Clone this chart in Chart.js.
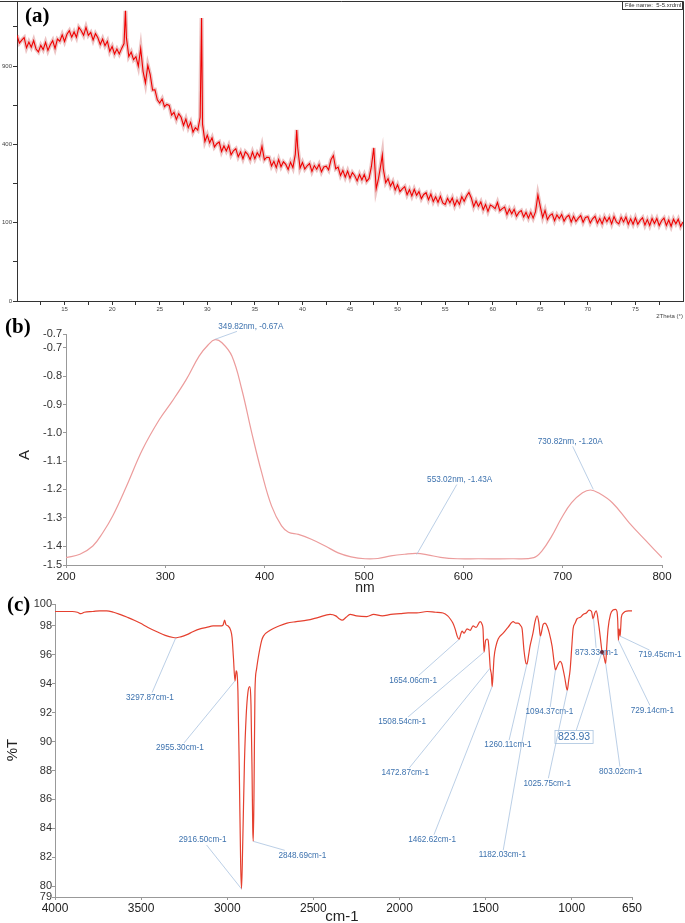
<!DOCTYPE html>
<html>
<head>
<meta charset="utf-8">
<script src="https://cdn.jsdelivr.net/npm/chart.js@4.4.1/dist/chart.umd.min.js"></script>
<style>
  body { margin: 0; background: #fff; }
  #wrap { position: relative; width: 685px; height: 923px; overflow: hidden; }
  canvas { position: absolute; left: 0; }
  .tag { position: absolute; font: bold 21px "Liberation Serif", "Times New Roman", serif; line-height: 21px; color: #000; }
</style>
</head>
<body>
<div id="wrap">
  <canvas id="xrd" width="685" height="322" style="top:0;width:685px;height:322px"></canvas>
  <canvas id="uv" width="685" height="270" style="top:322px;width:685px;height:270px"></canvas>
  <canvas id="ir" width="685" height="331" style="top:592px;width:685px;height:331px"></canvas>
  <div class="tag" style="left:25px;top:5px">(a)</div>
  <div class="tag" style="left:5px;top:316px">(b)</div>
  <div class="tag" style="left:7px;top:594px">(c)</div>
</div>
<script>
// ---- (a) XRD, 2theta vs counts ----
const xrdTheta = [
  10,10.25,10.5,10.75,11,11.25,11.5,11.75,12,12.25,12.5,12.75,13,13.25,13.5,13.75,14,14.25,14.5,14.75,
  15,15.25,15.5,15.75,16,16.25,16.5,16.75,17,17.25,17.5,17.75,18,18.25,18.5,18.75,19,19.25,19.5,19.75,
  20,20.25,20.5,20.75,21,21.25,21.4,21.5,21.75,22,22.25,22.5,22.75,23,23.25,23.5,23.75,24,24.25,24.5,24.75,
  25,25.25,25.5,25.75,26,26.25,26.5,26.75,27,27.25,27.5,27.75,28,28.25,28.5,28.75,29,29.25,29.4,29.5,29.75,
  30,30.25,30.5,30.75,31,31.25,31.5,31.75,32,32.25,32.5,32.75,33,33.25,33.5,33.75,34,34.25,34.5,34.75,
  35,35.25,35.5,35.75,36,36.25,36.5,36.75,37,37.25,37.5,37.75,38,38.25,38.5,38.75,39,39.25,39.4,39.5,39.75,
  40,40.25,40.5,40.75,41,41.25,41.5,41.75,42,42.25,42.5,42.75,43,43.25,43.5,43.75,44,44.25,44.5,44.75,
  45,45.25,45.5,45.75,46,46.25,46.5,46.75,47,47.25,47.5,47.75,48,48.25,48.4,48.5,48.75,49,49.25,49.5,49.75,
  50,50.25,50.5,50.75,51,51.25,51.5,51.75,52,52.25,52.5,52.75,53,53.25,53.5,53.75,54,54.25,54.5,54.75,
  55,55.25,55.5,55.75,56,56.25,56.5,56.75,57,57.25,57.5,57.75,58,58.25,58.5,58.75,59,59.25,59.5,59.75,
  60,60.25,60.5,60.75,61,61.25,61.5,61.75,62,62.25,62.5,62.75,63,63.25,63.5,63.75,64,64.25,64.5,64.75,
  65,65.25,65.5,65.75,66,66.25,66.5,66.75,67,67.25,67.5,67.75,68,68.25,68.5,68.75,69,69.25,69.5,69.75,
  70,70.25,70.5,70.75,71,71.25,71.5,71.75,72,72.25,72.5,72.75,73,73.25,73.5,73.75,74,74.25,74.5,74.75,
  75,75.25,75.5,75.75,76,76.25,76.5,76.75,77,77.25,77.5,77.75,78,78.25,78.5,78.75,79,79.25,79.5,79.75,80
];
const xrdCounts = [
  1150,1085,1110,1130,1045,1093,1050,1105,1035,1012,1065,1030,1090,1023,1070,1105,1040,1118,1100,1155,
  1098,1160,1190,1135,1180,1133,1220,1190,1150,1220,1150,1175,1110,1165,1130,1073,1119,1063,1100,1015,
  1055,995,1035,995,1040,1080,1372,1130,975,1010,950,973,900,1040,860,775,905,835,725,727,660,
  639,665,615,630,623,563,580,537,572,550,502,540,490,520,465,490,476,550,1306,510,415,
  448,408,434,387,403,412,364,392,367,394,348,368,378,339,362,330,363,351,326,362,
  330,358,340,390,325,337,336,297,318,290,326,294,316,304,282,314,290,350,477,385,288,
  313,284,298,308,274,299,283,304,272,293,296,280,325,345,285,292,257,278,250,275,
  246,269,256,235,261,239,261,233,245,295,382,205,245,305,348,285,228,244,215,232,201,
  220,195,205,213,184,202,180,203,182,195,171,185,191,167,186,161,177,159,179,157,
  152,172,157,173,148,166,152,177,162,180,192,173,145,163,146,160,136,152,131,150,
  146,139,158,133,139,144,122,138,124,137,117,128,133,115,128,112,128,112,130,183,
  145,114,134,108,119,124,105,121,111,122,104,115,120,102,117,103,112,119,101,114,
  116,99,110,117,99,111,97,115,103,114,97,116,102,97,114,102,115,96,110,96,
  113,96,106,113,94,108,93,111,98,111,93,105,112,93,107,91,109,97,109,91,102
];
const xrdXTicks = [12.5,15,17.5,20,22.5,25,27.5,30,32.5,35,37.5,40,42.5,45,47.5,50,52.5,55,57.5,60,62.5,65,67.5,70,72.5,75,77.5];
const xrdXLabels = ['','15','','20','','25','','30','','35','','40','','45','','50','','55','','60','','65','','70','','75',''];
const xrdYTickCounts = [0,25,100,225,400,625,900,1225];
const xrdYLabels = ['0','','100','','400','','900',''];

// ---- (b) UV-Vis, nm vs A ----
const uvNm = [200,214,227,237,247,261,277,294,307,321,334,343,350,357,367,377,387,397,407,417,
  424,434,447,461,474,487,501,514,527,541,553,564,577,594,615,649,671,679,689,699,
  709,720,728,736,750,767,784,800];
const uvAbs = [-1.441,-1.429,-1.40,-1.353,-1.294,-1.188,-1.059,-0.953,-0.888,-0.812,-0.729,-0.69,-0.671,-0.682,-0.729,-0.847,-1.0,-1.141,-1.259,-1.329,
  -1.351,-1.359,-1.376,-1.40,-1.424,-1.438,-1.445,-1.444,-1.435,-1.429,-1.426,-1.431,-1.44,-1.445,-1.445,-1.445,-1.441,-1.418,-1.365,-1.30,
  -1.247,-1.212,-1.202,-1.212,-1.247,-1.318,-1.382,-1.441];
const uvXTicks = [200,300,400,500,600,700,800];
const uvXLabels = ['200','300','400','500','600','700','800'];
const uvYTicks = [-1.467,-1.4,-1.3,-1.2,-1.1,-1.0,-0.9,-0.8,-0.7,-0.651];
const uvYLabels = ['-1.5','-1.4','-1.3','-1.2','-1.1','-1.0','-0.9','-0.8','-0.7','-0.7'];
const uvPeakNm = [349.82, 553.02, 730.82];
const uvPeakA = [-0.67, -1.43, -1.20];
const uvPeakText = ['349.82nm, -0.67A', '553.02nm, -1.43A', '730.82nm, -1.20A'];

// ---- (c) FTIR, cm-1 vs %T ----
const irCm = [4000,3950,3900,3870,3850,3830,3780,3740,3700,3660,3623,3580,3540,3506,3460,3408,3360,3314,3298,3270,
  3234,3200,3158,3120,3082,3040,3025,3015,3008,2995,2980,2972,2964,2955,2948,2944,2938,2930,2922,2917,
  2910,2900,2890,2880,2870,2862,2856,2852,2849,2845,2839,2830,2820,2800,2790,2751,2700,2653,2600,2537,
  2470,2403,2370,2350,2333,2310,2287,2250,2190,2150,2100,2050,1996,1950,1900,1840,1790,1747,1720,1706,
  1690,1677,1665,1654,1645,1637,1625,1608,1590,1573,1555,1532,1520,1515,1509,1500,1491,1485,1478,1473,
  1466,1462,1456,1451,1440,1427,1398,1370,1340,1325,1311,1295,1288,1277,1265,1260,1250,1242,1225,1213,
  1201,1192,1189,1182,1175,1166,1155,1143,1130,1114,1100,1094,1085,1067,1058,1050,1040,1030,1026,1018,
  1009,1000,992,980,969,950,934,915,899,885,876,866,858,850,847,840,830,824,815,806,
  803,797,789,775,760,745,737,733,729,725,722,719,715,712,700,690,670,650];
const irT = [99.0,99.0,99.0,98.95,98.85,98.95,99.0,99.05,99.05,98.95,98.8,98.6,98.4,98.2,97.9,97.6,97.35,97.2,97.18,97.25,
  97.4,97.6,97.8,97.9,98.0,98.0,98.05,98.4,98.1,98.0,97.7,97.2,95.8,94.2,94.9,94.8,93.5,88,81.5,79.8,
  83,88.6,91.8,93.4,93.8,92.5,88,84,83.1,86,93.5,95,95.8,97.0,97.3,97.7,98.0,98.2,98.3,98.4,
  98.6,98.8,98.7,98.5,98.4,98.6,98.8,98.7,98.65,98.8,98.7,98.8,98.85,98.9,98.9,99.0,98.95,98.9,98.7,98.5,
  98.2,97.8,97.3,97.07,97.4,97.65,97.5,97.8,97.7,98.0,97.9,98.3,98.1,97.8,96.2,97.0,97.1,97.0,96.0,95.1,
  94.6,93.8,94.8,95.8,96.6,97.1,97.5,97.9,98.3,98.2,98.2,98.0,97.8,96.3,95.4,95.36,96.0,96.6,97.5,98.3,
  98.7,98.3,98.0,97.3,97.6,98.1,98.2,98.0,97.5,96.6,95.3,94.95,95.2,95.55,95.4,95.0,94.4,93.7,93.55,94.2,
  95.0,96.5,97.8,98.2,98.5,98.6,98.8,98.9,99.1,99.0,98.5,98.9,99.05,98.7,98.4,97.8,96.8,96.2,96.0,95.5,
  95.4,96.5,97.8,98.8,99.1,99.15,99.0,98.4,97.0,97.8,97.6,97.3,98.0,98.6,98.9,99.0,99.05,99.05];
const irXTicks = [650,1000,1500,2000,2500,3000,3500,4000];
const irXLabels = ['650','1000','1500','2000','2500','3000','3500','4000'];
const irYTicks = [79.25,80,82,84,86,88,90,92,94,96,98,99.52];
const irYLabels = ['79','80','82','84','86','88','90','92','94','96','98','100'];
const irPeakCm = [3297.87,2955.30,2916.50,2848.69,1654.06,1508.54,1472.87,1462.62,1260.11,1182.03,1094.37,1025.75,873.33,823.93,803.02,729.14,719.45];
const irPeakT = [97.2,94.2,79.8,83.1,97.07,96.2,95.1,93.8,95.36,97.3,94.95,93.55,98.5,96.2,95.4,97.0,97.3];
const irPeakText = ['3297.87cm-1','2955.30cm-1','2916.50cm-1','2848.69cm-1','1654.06cm-1','1508.54cm-1','1472.87cm-1','1462.62cm-1',
  '1260.11cm-1','1182.03cm-1','1094.37cm-1','1025.75cm-1','873.33cm-1','823.93','803.02cm-1','729.14cm-1','719.45cm-1'];

// label placement (pixel offset of each label from its peak)
const uvLabelOffset = [[36,-13],[43,-75],[-23,-48]];
const irLabelOffset = [[-26,60],[-55,67],[-39,-49],[49,14],[-46,41],[-82,70],[-85,105],[-60,153],[-19,81],[-38,219],
  [-6,42],[-20,93],[3,34],[-28,85],[15,108],[34,70],[40,19]];

const FONT = 'Arial, "Liberation Sans", sans-serif';
Chart.defaults.font.family = FONT;
Chart.defaults.animation = false;

// free text (axis titles etc.)
Chart.register({
  id: 'extraText',
  afterDraw(chart, args, opts) {
    const ctx = chart.ctx;
    (opts.items || []).forEach(t => {
      ctx.save();
      ctx.font = t.font;
      ctx.fillStyle = t.color || '#222';
      ctx.textAlign = t.align || 'center';
      ctx.textBaseline = 'middle';
      ctx.translate(t.x, t.y);
      if (t.rot) ctx.rotate(t.rot);
      ctx.fillText(t.text, 0, 0);
      ctx.restore();
    });
  }
});

// peak labels with leader lines
Chart.register({
  id: 'peakLabels',
  afterDatasetsDraw(chart, args, opts) {
    if (!opts.points) return;
    const ctx = chart.ctx, xs = chart.scales.x, ys = chart.scales.y;
    ctx.save();
    opts.points.forEach(p => {
      const px = xs.getPixelForValue(p.x), py = ys.getPixelForValue(p.y);
      const lx = px + p.dx, ly = py + p.dy;
      ctx.font = p.box ? opts.boxFont : opts.font;
      const w = ctx.measureText(p.text).width, h = p.box ? 11 : 8;
      const hw = w / 2 + (p.box ? 3 : 1), hh = h / 2 + 1;
      const vx = px - lx, vy = py - ly;
      const s = Math.min(vx ? hw / Math.abs(vx) : Infinity, vy ? hh / Math.abs(vy) : Infinity);
      ctx.strokeStyle = opts.lineColor;
      ctx.lineWidth = 0.8;
      ctx.beginPath();
      ctx.moveTo(px, py);
      ctx.lineTo(lx + vx * s, ly + vy * s);
      ctx.stroke();
      if (p.box) ctx.strokeRect(lx - w / 2 - 3, ly - h / 2 - 1, w + 6, h + 2);
      if (p.dot) {
        ctx.fillStyle = '#6b2b3a';
        ctx.beginPath(); ctx.arc(px, py, 2, 0, Math.PI * 2); ctx.fill();
      }
      ctx.fillStyle = opts.color;
      ctx.textAlign = 'center';
      ctx.textBaseline = 'middle';
      ctx.fillText(p.text, lx, ly);
    });
    ctx.restore();
  }
});

function axis(o) {
  return {
    type: 'linear', position: o.pos, min: o.min, max: o.max, reverse: !!o.reverse,
    afterBuildTicks: s => { s.ticks = o.ticks.map(v => ({ value: v })); },
    afterFit: s => {
      if (o.pos === 'bottom') { s.height = o.size; s.paddingLeft = 0; s.paddingRight = 0; }
      else { s.width = o.size; s.paddingTop = 0; s.paddingBottom = 0; }
    },
    grid: { drawOnChartArea: false, tickLength: o.tick, color: o.line, tickColor: o.line },
    border: { color: o.line, width: 1 },
    ticks: {
      autoSkip: false, maxRotation: 0, padding: o.pad, color: o.text,
      font: { family: FONT, size: o.font },
      callback: (v, i) => o.labels[i]
    }
  };
}

// ---- chart (a) ----
const xrdFrame = {
  id: 'xrdFrame',
  afterDraw(chart) {
    const { ctx, chartArea: a } = chart;
    ctx.save();
    ctx.strokeStyle = '#333';
    ctx.lineWidth = 1;
    ctx.beginPath();
    ctx.moveTo(0, a.top + 0.5);
    ctx.lineTo(a.right + 0.5, a.top + 0.5);
    ctx.lineTo(a.right + 0.5, a.bottom);
    ctx.stroke();
    ctx.fillStyle = '#fff';
    ctx.fillRect(622, 1, 60, 8);
    ctx.strokeRect(622.5, 1.5, 60, 8);
    ctx.font = '6px ' + FONT;
    ctx.fillStyle = '#333';
    ctx.textBaseline = 'middle';
    ctx.fillText('File name:  5-5.xrdml', 625, 5.5);
    ctx.restore();
  }
};

const xrdPoints = xrdTheta.map((t, i) => ({ x: t, y: Math.sqrt(xrdCounts[i]) }));

new Chart(document.getElementById('xrd'), {
  type: 'line',
  data: {
    datasets: [
      { data: xrdPoints, borderColor: '#f00000', borderWidth: 1.1, pointRadius: 0, tension: 0, order: 1 },
      // soft halo under the trace, like the dense raw scan
      { data: xrdPoints, borderColor: 'rgba(185,40,40,0.28)', borderWidth: 4, pointRadius: 0, tension: 0, order: 2 }
    ]
  },
  options: {
    responsive: false, devicePixelRatio: 1, events: [],
    layout: { padding: { left: 0, top: 1, right: 2, bottom: 0 } },
    plugins: {
      legend: { display: false }, tooltip: { enabled: false },
      extraText: { items: [{ text: '2Theta (°)', x: 683, y: 316, font: '6px ' + FONT, align: 'right', color: '#444' }] }
    },
    scales: {
      x: axis({ pos: 'bottom', min: 10, max: 80, ticks: xrdXTicks, labels: xrdXLabels, size: 21, tick: 4, pad: 1, font: 6, line: '#333', text: '#444' }),
      y: axis({ pos: 'left', min: 0, max: 38.3, ticks: xrdYTickCounts.map(Math.sqrt), labels: xrdYLabels, size: 17, tick: 4, pad: 1, font: 6, line: '#333', text: '#444' })
    }
  },
  plugins: [xrdFrame]
});

// ---- chart (b) ----
new Chart(document.getElementById('uv'), {
  type: 'line',
  data: {
    datasets: [{
      data: uvNm.map((n, i) => ({ x: n, y: uvAbs[i] })),
      borderColor: '#ec9c9c', borderWidth: 1.2, pointRadius: 0, tension: 0.4
    }]
  },
  options: {
    responsive: false, devicePixelRatio: 1, events: [],
    layout: { padding: { left: 0, top: 12, right: 23, bottom: 0 } },
    plugins: {
      legend: { display: false }, tooltip: { enabled: false },
      extraText: { items: [
        { text: 'A', x: 25, y: 133, font: '15px ' + FONT, rot: -Math.PI / 2, color: '#222' },
        { text: 'nm', x: 365, y: 266, font: '14px ' + FONT, color: '#222' }
      ] },
      peakLabels: {
        font: '8.2px ' + FONT, color: '#3d72ae', lineColor: '#a9c3df',
        points: uvPeakNm.map((n, i) => ({ x: n, y: uvPeakA[i], text: uvPeakText[i], dx: uvLabelOffset[i][0], dy: uvLabelOffset[i][1] }))
      }
    },
    scales: {
      x: axis({ pos: 'bottom', min: 200, max: 800, ticks: uvXTicks, labels: uvXLabels, size: 27, tick: 3, pad: 1.5, font: 11.5, line: '#999', text: '#222' }),
      y: axis({ pos: 'left', min: -1.467, max: -0.651, ticks: uvYTicks, labels: uvYLabels, size: 66, tick: 3, pad: 1, font: 11, line: '#999', text: '#333' })
    }
  }
});

// ---- chart (c) ----
new Chart(document.getElementById('ir'), {
  type: 'line',
  data: {
    datasets: [{
      data: irCm.map((c, i) => ({ x: c, y: irT[i] })),
      borderColor: '#e5402f', borderWidth: 1.2, pointRadius: 0, cubicInterpolationMode: 'monotone'
    }]
  },
  options: {
    responsive: false, devicePixelRatio: 1, events: [],
    layout: { padding: { left: 0, top: 12, right: 53, bottom: 0 } },
    plugins: {
      legend: { display: false }, tooltip: { enabled: false },
      extraText: { items: [
        { text: '%T', x: 13, y: 158, font: '15px ' + FONT, rot: -Math.PI / 2, color: '#222' },
        { text: 'cm-1', x: 342, y: 325, font: '15px ' + FONT, color: '#222' }
      ] },
      peakLabels: {
        font: '8.2px ' + FONT, boxFont: '10.5px ' + FONT, color: '#3d72ae', lineColor: '#a9c3df',
        points: irPeakCm.map((c, i) => ({
          x: c, y: irPeakT[i], text: irPeakText[i],
          dx: irLabelOffset[i][0], dy: irLabelOffset[i][1],
          box: irPeakText[i] === '823.93', dot: irPeakText[i] === '823.93'
        }))
      }
    },
    scales: {
      x: axis({ pos: 'bottom', min: 650, max: 4000, reverse: true, ticks: irXTicks, labels: irXLabels, size: 26, tick: 3, pad: 1, font: 12, line: '#999', text: '#222' }),
      y: axis({ pos: 'left', min: 79.25, max: 99.52, ticks: irYTicks, labels: irYLabels, size: 55, tick: 3, pad: 0, font: 11, line: '#999', text: '#333' })
    }
  }
});
</script>
</body>
</html>
